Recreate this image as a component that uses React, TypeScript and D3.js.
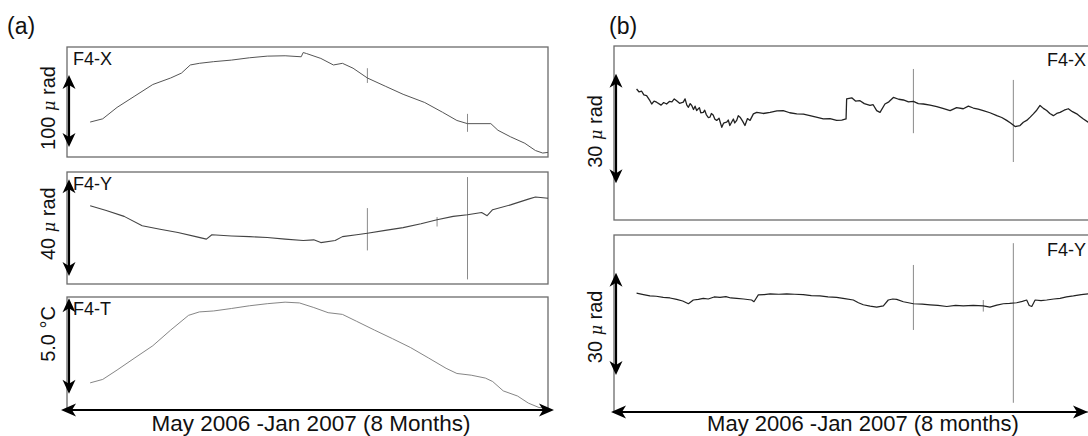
import React from "react";
import * as d3 from "d3";

// time axis: days since 1 May 2006 (to 1 Jan 2007)
const DAY_SPAN = [0, 245];

// panel (a) F4-X tilt (micro rad)
const aX: [number, number][] = [
  [11.8, 48.6], [18.2, 53.1], [25.5, 69], [34.6, 84.9], [43.7, 100.8], [52.8, 109.9], [58.3, 116.7],
  [62.8, 128], [67.4, 130.3], [74.7, 132.6], [83.8, 134.8], [92.9, 138], [102, 140.3], [111.1, 140.8],
  [119.3, 139.4], [120.3, 145.3], [122, 143.9], [129.3, 137.1], [135.7, 128], [140.3, 130.3],
  [145.7, 123.5], [153, 109.9], [162.1, 98.5], [171.2, 87.2], [182.2, 75.8], [191.3, 62.2],
  [198.6, 50.8], [204, 46.4], [215.9, 46.4], [219.5, 37.2], [225.9, 28.1], [233.2, 19.1],
  [238.6, 9], [242.3, 5.5], [245, 6.4],
];
const aXSpikes: [number, number, number][] = [[153, 103, 123.5], [204, 35, 60]];

// panel (a) F4-Y tilt (micro rad)
const aY: [number, number][] = [
  [11.8, 34], [20, 32], [29.1, 29.4], [38.3, 25.3], [47.4, 23.8], [56.5, 22.4], [65.6, 20.6], [71, 19.5],
  [73.8, 21.4], [83.8, 20.9], [92.9, 20.6], [102, 20.2], [111.1, 19.5], [120.3, 18.9], [125.7, 19.2],
  [129.3, 18], [136.6, 18.9], [140.3, 20.6], [147.5, 21.4], [153, 22.1], [162.1, 23.3], [171.2, 24.5],
  [180.3, 26.2], [188.5, 27.9], [196.7, 29.4], [204, 30.1], [211.2, 31.1], [214, 29.7], [216.8, 32.3],
  [225.9, 34.4], [235, 36.9], [238.6, 37.8], [245, 37.3],
];
const aYSpikes: [number, number, number][] = [[153, 14.6, 33], [204, 2, 46.5], [188.5, 25, 29.1]];

// panel (a) F4-T temperature (deg C, relative)
const aT: [number, number][] = [
  [11.8, 1.42], [18.2, 1.6], [25.5, 2.09], [34.6, 2.73], [43.7, 3.36], [52.8, 4.18], [61.9, 4.95],
  [67.4, 5.13], [74.7, 5.18], [83.8, 5.31], [92.9, 5.45], [102, 5.56], [111.1, 5.64], [118.4, 5.6],
  [125.7, 5.36], [133, 5.09], [140.3, 5], [147.5, 4.64], [156.6, 4.18], [165.8, 3.73], [174.9, 3.27],
  [184, 2.73], [193.1, 2.18], [198.6, 1.91], [205.9, 1.82], [213.1, 1.67], [216.8, 1.49], [222.2, 1],
  [229.5, 0.73], [235, 0.36], [240.4, 0.13], [245, 0.09],
];

// panel (b) F4-X tilt (micro rad)
const bX: [number, number][] = [
  [11.5, 35.9], [12.8, 35.1], [14.1, 35.3], [15.2, 34.3], [16.6, 34.1], [18.3, 32.7], [19.2, 31.8],
  [20.4, 32.6], [21.7, 32.3], [24, 31.5], [25.3, 32.2], [26.8, 31.8], [28.2, 32.5], [29.5, 32.4],
  [30.7, 33.2], [31.9, 32.7], [33.4, 32], [35.3, 32.3], [36.2, 33.2], [37.1, 31.5], [37.9, 30.9],
  [38.8, 31.9], [39.6, 31.4], [40.5, 30.3], [41.3, 31.2], [42.1, 30], [43.5, 30.8], [44.2, 29.4],
  [45.5, 29.5], [46.2, 30.1], [47, 28.9], [48, 28.1], [48.9, 28.2], [49.6, 29.2], [50.5, 28.8],
  [51.4, 27.6], [52.3, 27.3], [53.5, 27.9], [54.9, 25.4], [55.5, 26.2], [56, 26.6], [57.4, 26.8],
  [58.2, 27.4], [59, 25.9], [60.8, 27.7], [61.5, 26.6], [62.5, 27.3], [63.3, 28.6], [64.2, 28.2],
  [65.5, 27.1], [66.7, 25.9], [68, 27.8], [69.3, 27.3], [71, 29.1], [72.7, 29.5], [76, 29.2],
  [79.5, 29.5], [83, 29.9], [86.2, 30], [89.5, 29.4], [93.1, 29.1], [96.5, 29], [99.8, 28.6],
  [103, 28.2], [106.6, 27.7], [110, 27.8], [113.4, 27.3], [116, 27.4], [118.2, 27.7], [118.5, 33.2],
  [121.1, 33.5], [123, 32.6], [125.3, 32.7], [127.5, 31.9], [130.4, 31.4], [132, 31.6], [133.8, 30],
  [135.5, 29.5], [138, 31.8], [140, 32.4], [142.3, 33.6], [145, 33.1], [147.4, 32.9], [150, 32.4],
  [152.5, 32.5], [155, 31.9], [157.6, 31.8], [161, 31.5], [164.4, 31.1], [167.5, 30.6], [171.2, 30],
  [174.5, 30.8], [177.9, 30.5], [180.5, 31.2], [183, 30.7], [185.5, 30.4], [188.1, 30], [191.5, 29.4],
  [195, 28.6], [197.5, 28.1], [200, 27.3], [202, 26.6], [204.3, 25.6], [206.8, 25.9], [208.5, 26.8],
  [210.2, 27.3], [212, 28.2], [213.6, 29.1], [215.3, 30.1], [217, 31.4], [218.7, 30.6], [220.4, 30],
  [222, 29.2], [223.8, 28.6], [225.5, 29.2], [227.2, 29.5], [229.3, 30.1], [231.4, 30.5], [233.5, 29.7],
  [235.7, 29.1], [237.4, 28.4], [239.1, 27.7], [241.5, 26.8], [245, 26.2],
];
const bXSpikes: [number, number, number][] = [[152.5, 23.8, 41.4], [203.4, 15.9, 38.4]];

// panel (b) F4-Y tilt (micro rad)
const bY: [number, number][] = [
  [11.5, 34.9], [15, 34.5], [18.3, 34.1], [21.5, 34], [25.1, 33.7], [28.5, 33.5], [31.9, 33.1],
  [35, 32.6], [37.9, 31.8], [40.4, 32.9], [43, 33.1], [45.5, 33.4], [48, 33.2], [51, 33.8], [54, 33.7],
  [57, 33.9], [59.5, 33.5], [62.5, 33.4], [66, 33.2], [70.1, 32.9], [71.3, 32.4], [73.5, 34.4],
  [76.5, 34.5], [79.5, 34.7], [84, 34.6], [88, 34.7], [92, 34.6], [96.4, 34.5], [100.5, 34.2],
  [104.9, 34.1], [109, 33.8], [113.4, 33.7], [117.5, 33.3], [121.9, 32.9], [124.5, 32.1], [127, 31.5],
  [130.5, 31.1], [133.8, 30.8], [137.2, 31.2], [139.7, 32.9], [142, 33.2], [144, 33.1], [147.4, 32.4],
  [150, 32.1], [152.5, 31.8], [157, 31.7], [161, 31.5], [165, 31.3], [169.5, 31], [174, 31.3],
  [177.9, 31.2], [183, 31.3], [188.1, 31.2], [191.5, 30.8], [195, 31.4], [198.3, 31.8], [201.5, 31.9],
  [205.1, 32.1], [208, 32.5], [210.2, 32.9], [211.5, 31.3], [212.8, 31], [214.5, 32.9], [217.5, 32.7],
  [220.4, 32.9], [224, 33.2], [227.2, 33.4], [230.5, 33.8], [234, 34.1], [238, 34.5], [241.5, 34.7],
  [245, 34.9],
];
const bYSpikes: [number, number, number][] = [[152.5, 24.1, 43.2], [203.4, 2.7, 49.6], [188.1, 29.5, 32.9]];

const xLabelA = "May 2006 -Jan 2007 (8 Months)";
const xLabelB = "May 2006 -Jan 2007 (8 months)";

const FONT = "Arial, 'Liberation Sans', Helvetica, sans-serif";

type Panel = {
  x0: number; x1: number; top: number; bottom: number;
  ymax: number; data: [number, number][]; spikes?: [number, number, number][];
  arrow: [number, number]; unitNum: string; unitTail: string; unitIsMicro: boolean; unitDy: number;
  name: string; nameX: number; nameDy: number; lineColor: string; lineWidth: number;
};

const panels: Panel[] = [
  { x0: 67, x1: 548, top: 47, bottom: 157, ymax: 153, data: aX, spikes: aXSpikes, arrow: [14, 114],
    unitNum: "100 ", unitTail: " rad", unitIsMicro: true, unitDy: -3, name: "F4-X", nameX: 73, nameDy: 18, lineColor: "#555", lineWidth: 1 },
  { x0: 67, x1: 548, top: 172, bottom: 284, ymax: 48.7, data: aY, spikes: aYSpikes, arrow: [3.5, 45.5],
    unitNum: "40 ", unitTail: " rad", unitIsMicro: true, unitDy: -4, name: "F4-Y", nameX: 73, nameDy: 18, lineColor: "#444", lineWidth: 1.1 },
  { x0: 67, x1: 548, top: 297, bottom: 410, ymax: 5.91, data: aT, arrow: [0.85, 5.85],
    unitNum: "5.0 °C", unitTail: "", unitIsMicro: false, unitDy: -12, name: "F4-T", nameX: 73, nameDy: 18, lineColor: "#777", lineWidth: 0.9 },
  { x0: 614, x1: 1095, top: 46, bottom: 220, ymax: 47.7, data: bX, spikes: bXSpikes, arrow: [10.1, 40.1],
    unitNum: "30 ", unitTail: " rad", unitIsMicro: true, unitDy: 3, name: "F4-X", nameX: 1047, nameDy: 20, lineColor: "#222", lineWidth: 1.3 },
  { x0: 614, x1: 1095, top: 235, bottom: 412, ymax: 52, data: bY, spikes: bYSpikes, arrow: [10.9, 40.9],
    unitNum: "30 ", unitTail: " rad", unitIsMicro: true, unitDy: 3, name: "F4-Y", nameX: 1047, nameDy: 21, lineColor: "#222", lineWidth: 1.2 },
];

function VArrow({ x, y1, y2 }: { x: number; y1: number; y2: number }) {
  const h = 14, w = 6.5;
  return (
    <g>
      <line x1={x} x2={x} y1={y1 + 4} y2={y2 - 4} stroke="#000" strokeWidth={2.2} />
      <polygon points={`${x},${y1} ${x - w},${y1 + h} ${x},${y1 + h - 4} ${x + w},${y1 + h}`} fill="#000" />
      <polygon points={`${x},${y2} ${x - w},${y2 - h} ${x},${y2 - h + 4} ${x + w},${y2 - h}`} fill="#000" />
    </g>
  );
}

function HArrow({ y, x1, x2 }: { y: number; x1: number; x2: number }) {
  const h = 15, w = 6.5;
  return (
    <g>
      <line x1={x1 + 4} x2={x2 - 4} y1={y} y2={y} stroke="#000" strokeWidth={2.2} />
      <polygon points={`${x1},${y} ${x1 + h},${y - w} ${x1 + h - 4},${y} ${x1 + h},${y + w}`} fill="#000" />
      <polygon points={`${x2},${y} ${x2 - h},${y - w} ${x2 - h + 4},${y} ${x2 - h},${y + w}`} fill="#000" />
    </g>
  );
}

function PanelView({ p }: { p: Panel }) {
  const x = d3.scaleLinear().domain(DAY_SPAN).range([p.x0, p.x1]);
  const y = d3.scaleLinear().domain([0, p.ymax]).range([p.bottom, p.top]);
  const line = d3.line<[number, number]>().x(d => x(d[0])).y(d => y(d[1])).curve(d3.curveLinear);
  const ay1 = y(p.arrow[1]);
  const ay2 = y(p.arrow[0]);
  const amid = (ay1 + ay2) / 2 + p.unitDy;
  const ax = p.x0 + 2;
  return (
    <g>
      <rect x={p.x0} y={p.top} width={p.x1 - p.x0} height={p.bottom - p.top} fill="none" stroke="#6b6b6b" strokeWidth={1.3} />
      {(p.spikes || []).map((s, i) => (
        <line key={i} x1={x(s[0])} x2={x(s[0])} y1={y(s[1])} y2={y(s[2])} stroke="#8a8a8a" strokeWidth={1} />
      ))}
      <path d={line(p.data) || ""} fill="none" stroke={p.lineColor} strokeWidth={p.lineWidth} strokeLinejoin="round" />
      <VArrow x={ax} y1={ay1} y2={ay2} />
      <text transform={`translate(${p.x0 - 12},${amid}) rotate(-90)`} textAnchor="middle" fontFamily={FONT} fontSize={20} fill="#111">
        {p.unitNum}
        {p.unitIsMicro ? <tspan fontStyle="italic" fontFamily="'DejaVu Serif', serif" fontSize={16}>μ</tspan> : null}
        {p.unitTail}
      </text>
      <text x={p.nameX} y={p.top + p.nameDy} fontFamily={FONT} fontSize={18} fill="#111">{p.name}</text>
    </g>
  );
}

export default function App() {
  return (
    <svg width={1088} height={436} style={{ position: "absolute", left: 0, top: 0, background: "#fff" }}>
      <rect x={0} y={0} width={1088} height={436} fill="#fff" />
      <text x={7} y={34} fontFamily={FONT} fontSize={23} fill="#111">(a)</text>
      <text x={609} y={34} fontFamily={FONT} fontSize={23} fill="#111">(b)</text>
      {panels.map((p, i) => <PanelView key={i} p={p} />)}
      <HArrow y={410} x1={61} x2={554} />
      <HArrow y={412} x1={611} x2={1088} />
      <text x={311} y={431} textAnchor="middle" fontFamily={FONT} fontSize={22.5} fill="#111">{xLabelA}</text>
      <text x={863} y={431} textAnchor="middle" fontFamily={FONT} fontSize={22} fill="#111">{xLabelB}</text>
    </svg>
  );
}
